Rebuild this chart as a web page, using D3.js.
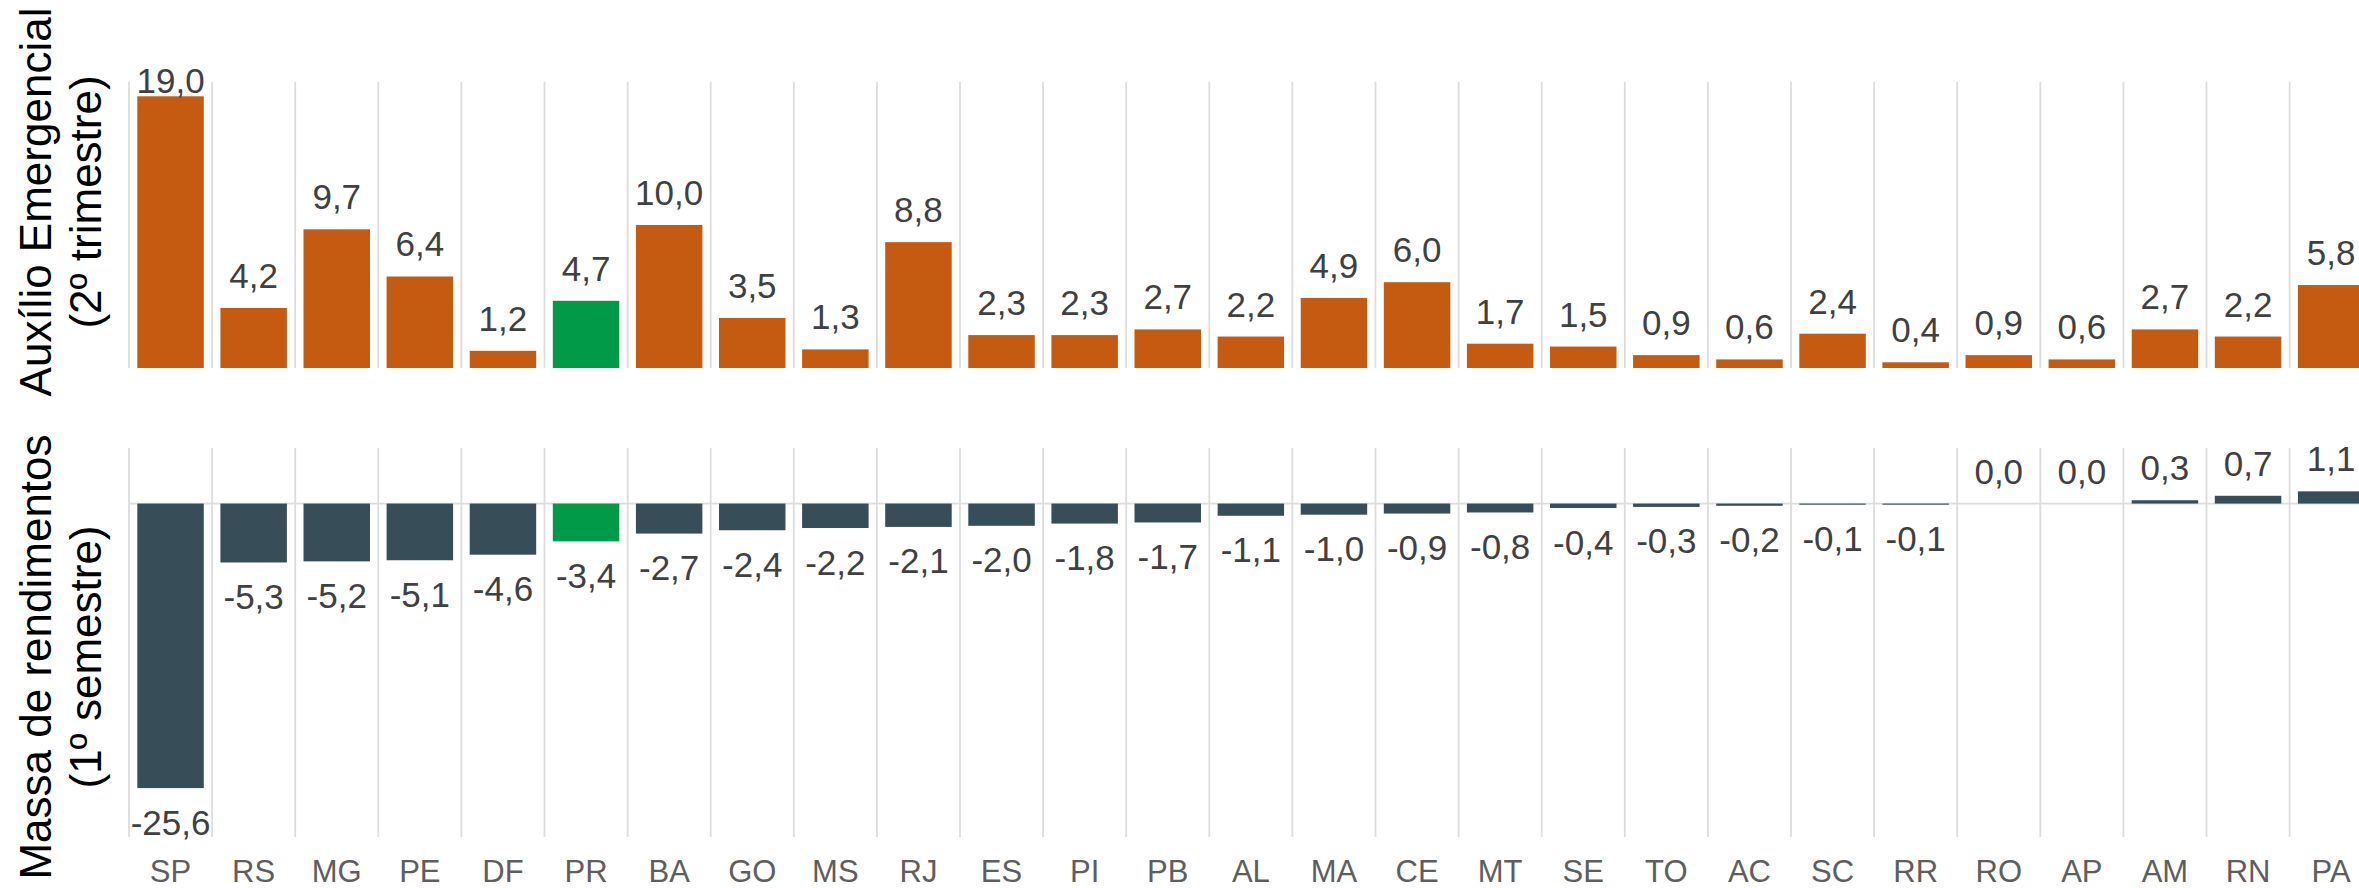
<!DOCTYPE html>
<html>
<head>
<meta charset="utf-8">
<script src="https://cdn.jsdelivr.net/npm/d3@7"></script>
<style>
  body { margin: 0; background: #fff; }
  svg { display: block; font-family: "Liberation Sans", Arial, sans-serif; }
</style>
</head>
<body>
<svg width="2359" height="888"></svg>
<script>
// states, ordered as in the chart
var states = ["SP", "RS", "MG", "PE", "DF", "PR", "BA", "GO", "MS", "RJ", "ES", "PI", "PB", "AL",
              "MA", "CE", "MT", "SE", "TO", "AC", "SC", "RR", "RO", "AP", "AM", "RN", "PA"];

// Auxílio Emergencial (2º trimestre)
var auxilio = [19.0, 4.2, 9.7, 6.4, 1.2, 4.7, 10.0, 3.5, 1.3, 8.8, 2.3, 2.3, 2.7, 2.2,
               4.9, 6.0, 1.7, 1.5, 0.9, 0.6, 2.4, 0.4, 0.9, 0.6, 2.7, 2.2, 5.8];

// Massa de rendimentos (1º semestre)
var massa = [-25.6, -5.3, -5.2, -5.1, -4.6, -3.4, -2.7, -2.4, -2.2, -2.1, -2.0, -1.8, -1.7, -1.1,
             -1.0, -0.9, -0.8, -0.4, -0.3, -0.2, -0.1, -0.1, 0.0, 0.0, 0.3, 0.7, 1.1];

var highlight = "PR";

var svg = d3.select("svg");

var x = d3.scaleBand()
    .domain(states)
    .range([129, 129 + 27 * 83.1])
    .paddingInner(0.2)
    .paddingOuter(0.1);

var gap = x.step() * 0.1;

var fmt = v => d3.format(".1f")(v).replace(".", ",").replace("−", "-");

var panels = [
    {values: auxilio, y: d3.scaleLinear().domain([0, 20]).range([368, 82]),
     color: "#c55a11", title: ["Auxílio Emergencial", "(2º trimestre)"], titleY: 202, zeroLine: false},
    {values: massa, y: d3.scaleLinear().domain([-30, 5]).range([837, 448]),
     color: "#374d57", title: ["Massa de rendimentos", "(1º semestre)"], titleY: 657, zeroLine: true}
];

panels.forEach(function(p) {
    var y = p.y;
    var data = states.map((s, i) => ({state: s, value: p.values[i]}));
    var g = svg.append("g");

    // vertical grid lines at the band edges
    g.append("g")
        .selectAll("line")
        .data(states)
        .join("line")
          .attr("x1", d => x(d) - gap)
          .attr("x2", d => x(d) - gap)
          .attr("y1", y.range()[1])
          .attr("y2", y.range()[0])
          .attr("stroke", "#dcdcdc")
          .attr("stroke-width", 1.8);

    if(p.zeroLine) {
        g.append("line")
            .attr("x1", x.range()[0])
            .attr("x2", x.range()[1])
            .attr("y1", y(0))
            .attr("y2", y(0))
            .attr("stroke", "#dcdcdc")
            .attr("stroke-width", 1.8);
    }

    g.append("g")
        .selectAll("rect")
        .data(data)
        .join("rect")
          .attr("x", d => x(d.state))
          .attr("width", x.bandwidth())
          .attr("y", d => y(Math.max(0, d.value)))
          .attr("height", d => Math.abs(y(d.value) - y(0)))
          .attr("fill", d => d.state == highlight ? "#009a49" : p.color);

    // value labels: above positive bars, below negative ones
    var topLimit = y(y.domain()[1] - 0.75);
    g.append("g")
        .selectAll("text")
        .data(data)
        .join("text")
          .attr("x", d => x(d.state) + x.bandwidth() / 2)
          .attr("y", d => d.value >= 0 ? Math.max(y(d.value) - 20, topLimit) : y(d.value) + 46.5)
          .attr("text-anchor", "middle")
          .attr("font-size", 35)
          .attr("fill", "#404040")
          .text(d => fmt(d.value));

    // panel title, two rotated lines
    p.title.forEach(function(t, i) {
        g.append("text")
            .attr("transform", "translate(" + (51 + i * 50) + "," + p.titleY + ") rotate(-90)")
            .attr("text-anchor", "middle")
            .attr("font-size", 44)
            .attr("fill", "#000")
            .text(t);
    });
});

// x axis tick labels
svg.append("g")
    .selectAll("text")
    .data(states)
    .join("text")
      .attr("x", d => x(d) + x.bandwidth() / 2)
      .attr("y", 882)
      .attr("text-anchor", "middle")
      .attr("font-size", 31)
      .attr("fill", "#5e5e5e")
      .text(d => d);
</script>
</body>
</html>
